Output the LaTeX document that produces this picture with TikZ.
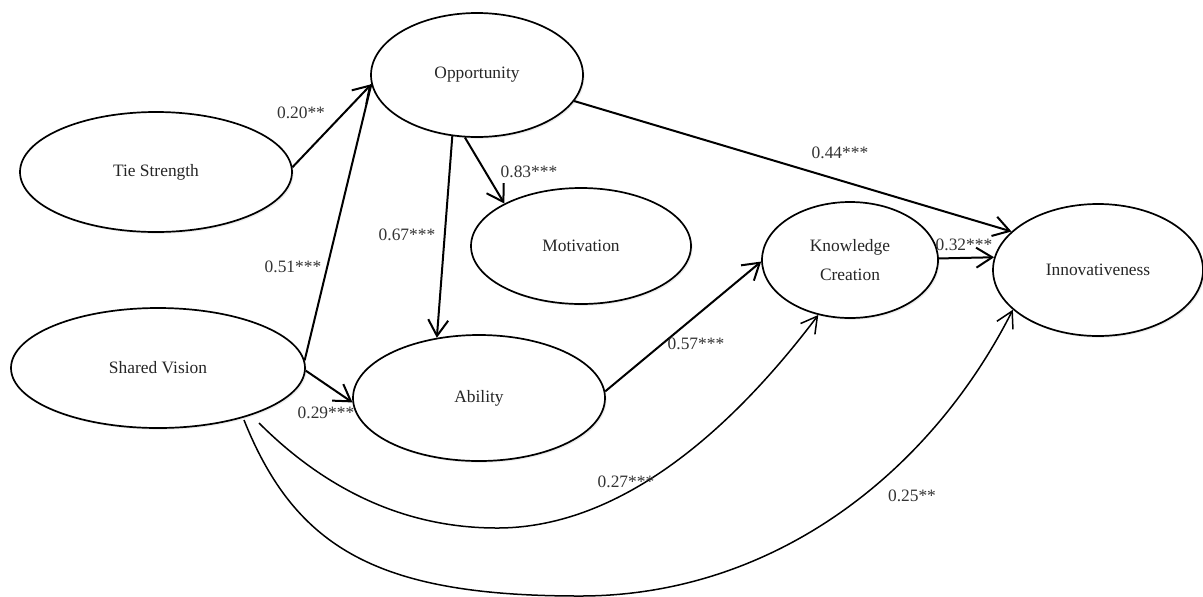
\documentclass[tikz,border=0pt]{standalone}
\usepackage{fontspec}
\setmainfont{Liberation Serif}
\usetikzlibrary{arrows.meta,shapes.geometric,shadows}
\begin{document}
\begin{tikzpicture}[x=0.5pt,y=-0.5pt,
  lat/.style={draw, ellipse, line width=0.85pt, inner sep=0pt, fill=white,
    drop shadow={opacity=0.15,shadow xshift=0.8pt,shadow yshift=-0.9pt},
    font=\fontsize{8.7}{14.5}\selectfont, align=center, text=black!85},
  conn/.style={line width=1pt, -{Straight Barb[length=8pt,width=10pt]}},
  curvedconn/.style={line width=0.75pt, -{Straight Barb[length=8pt,width=9pt]}},
  lab/.style={font=\fontsize{8.7}{10}\selectfont, inner sep=0pt, text=black!80}]
\useasboundingbox (0,0) rectangle (1203,596);

% latent variables
\node[lat, minimum width=106pt, minimum height=62pt] (opp) at (477,75) {Opportunity};
\node[lat, minimum width=136pt, minimum height=60pt] (tie) at (156,172) {Tie Strength};
\node[lat, minimum width=110pt, minimum height=58pt] (mot) at (581,246) {Motivation};
\node[lat, minimum width=88pt, minimum height=58pt] (kc) at (850,260) {Knowledge\\Creation};
\node[lat, minimum width=105pt, minimum height=66pt] (inn) at (1098,270) {Innovativeness};
\node[lat, minimum width=147pt, minimum height=60pt] (sv) at (158,368) {Shared Vision};
\node[lat, minimum width=126pt, minimum height=63pt] (abi) at (479,398) {Ability};

% free ends of the curved paths
\coordinate (svkc) at (259,423);
\coordinate (svin) at (244,420);

% straight paths
\draw[conn] (tie.2) -- (opp.185);
\draw[line width=1pt] (sv.3) -- (opp.185);
\draw[conn] (opp.248) -- (abi.125);
\draw[conn] (opp.259) -- (mot.151);
\draw[conn] (opp.-15) -- (inn.156);
\draw[conn] (kc.1) -- (inn.173);
\draw[conn] (abi.3) -- (kc.181);
\draw[conn] (sv.-1) -- (abi.182);

% curved paths
\draw[curvedconn] (svkc) .. controls (319,483) and (397,528) .. (497,528)
  .. controls (627,528) and (739,420) .. (kc.240);
\draw[curvedconn] (svin) .. controls (296,550) and (380,596) .. (580,596)
  .. controls (770,596) and (928,477) .. (inn.205);

% coefficients
\node[lab] (l1) at (301,113) {0.20**};
\node[lab] (l2) at (293,267) {0.51***};
\node[lab] (l3) at (407,235) {0.67***};
\node[lab] (l4) at (529,172) {0.83***};
\node[lab] (l5) at (840,153) {0.44***};
\node[lab] (l6) at (964,245) {0.32***};
\node[lab] (l7) at (696,344) {0.57***};
\node[lab] (l8) at (326,413) {0.29***};
\node[lab] (l9) at (626,482) {0.27***};
\node[lab] (l10) at (912,496) {0.25**};
\end{tikzpicture}
\end{document}
